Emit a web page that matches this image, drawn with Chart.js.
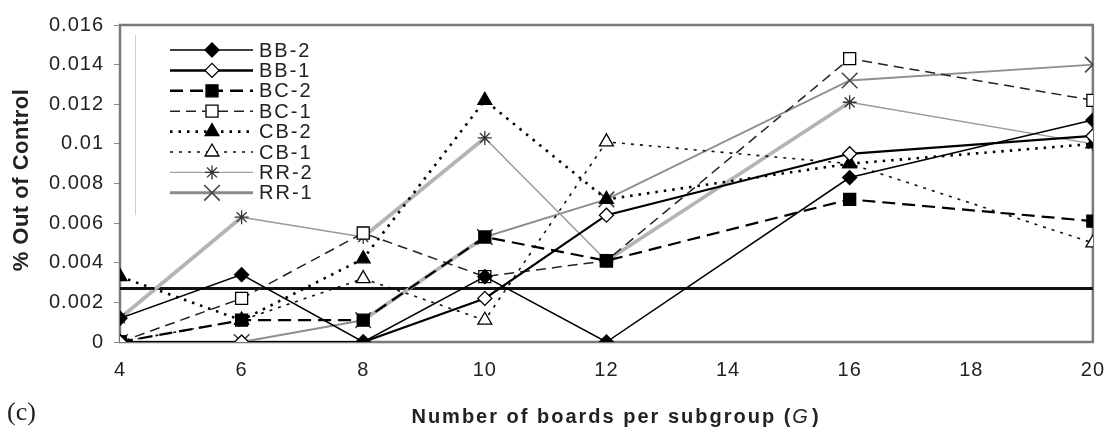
<!DOCTYPE html>
<html>
<head>
<meta charset="utf-8">
<script src="https://cdn.jsdelivr.net/npm/chart.js@4/dist/chart.umd.min.js"></script>
<style>
  html, body { margin: 0; padding: 0; background: #fff; }
  #wrap { width: 1120px; height: 431px; position: relative; }
</style>
</head>
<body>
<div id="wrap"><canvas id="c" width="1120" height="431"></canvas></div>
<script>
// Subgroup sizes (G) and the share of out-of-control signals per layout
const boardsPerSubgroup = [4, 6, 8, 10, 12, 16, 20];
const seriesNames = ['BB-2', 'BB-1', 'BC-2', 'BC-1', 'CB-2', 'CB-1', 'RR-2', 'RR-1'];
const bb2 = [0.0012, 0.0034, 0, 0.0033, 0, 0.0083, 0.0112];
const bb1 = [0, 0, 0, 0.0022, 0.0064, 0.0095, 0.0104];
const bc2 = [0, 0.0011, 0.0011, 0.0053, 0.0041, 0.0072, 0.0061];
const bc1 = [0, 0.0022, 0.0055, 0.0033, 0.0041, 0.0143, 0.0122];
const cb2 = [0.0033, 0.0011, 0.0042, 0.0122, 0.0072, 0.0090, 0.0100];
const cb1 = [0, 0.0011, 0.0032, 0.0011, 0.0101, 0.0090, 0.0050];
const rr2 = [0.0012, 0.0063, 0.0053, 0.0103, 0.0041, 0.0121, 0.0100];
const rr1 = [0, 0, 0.0011, 0.0053, 0.0072, 0.0132, 0.0140];
const controlLimit = 0.0027;
const yTickValues = [0, 0.002, 0.004, 0.006, 0.008, 0.01, 0.012, 0.014, 0.016];
const xTickValues = [4, 6, 8, 10, 12, 14, 16, 18, 20];
const xTitle = 'Number of boards per subgroup (';
const xTitleVar = 'G';
const yTitle = '% Out of Control';
const panelLabel = '(c)';

const toPoints = arr => boardsPerSubgroup.map((x, i) => ({ x, y: arr[i] }));

const SANS = '"Liberation Sans", Arial, sans-serif';

function series(label, values, style) {
  return Object.assign({
    label,
    data: toPoints(values),
    borderColor: '#000',
    borderWidth: 1.5,
    pointBackgroundColor: '#000',
    pointBorderColor: '#000',
    pointBorderWidth: 1.3,
    tension: 0,
    fill: false
  }, style);
}

const rr2Thick = [0, 2, 4];
const rr1Thick = [2];

const datasets = [
  series(seriesNames[0], bb2, { borderWidth: 1.5, pointStyle: 'rectRot', pointRadius: 7, legendWidth: 1.5 }),
  series(seriesNames[1], bb1, { borderWidth: 2.2, pointStyle: 'rectRot', pointRadius: 7,
    pointBackgroundColor: '#fff', legendWidth: 2.5 }),
  series(seriesNames[2], bc2, { borderWidth: 2.2, borderDash: [13, 7], pointStyle: 'rect', pointRadius: 8.5, legendWidth: 2.5 }),
  series(seriesNames[3], bc1, { borderWidth: 1.5, borderDash: [10, 6], borderColor: '#222', pointStyle: 'rect', pointRadius: 8.5,
    pointBackgroundColor: '#fff', legendWidth: 1.4 }),
  series(seriesNames[4], cb2, { borderWidth: 2.6, borderDash: [2.5, 6], pointStyle: 'triangle', pointRadius: 8, legendWidth: 2.8 }),
  series(seriesNames[5], cb1, { borderWidth: 1.6, borderDash: [3, 6], borderColor: '#111', pointStyle: 'triangle', pointRadius: 8,
    pointBackgroundColor: '#fff', legendWidth: 1.6 }),
  series(seriesNames[6], rr2, {
    borderColor: '#9c9c9c', borderWidth: 1.5, pointStyle: 'star', pointRadius: 7,
    pointBorderColor: '#333', pointBackgroundColor: '#333', legendWidth: 1.3, legendColor: '#a0a0a0',
    segment: {
      borderWidth: ctx => rr2Thick.includes(ctx.p0DataIndex) ? 3.8 : 1.5,
      borderColor: ctx => rr2Thick.includes(ctx.p0DataIndex) ? '#b4b4b4' : '#9a9a9a'
    }
  }),
  series(seriesNames[7], rr1, {
    borderColor: '#8e8e8e', borderWidth: 2, pointStyle: 'crossRot', pointRadius: 11,
    pointBorderColor: '#444', pointBorderWidth: 1.6, legendWidth: 3, legendColor: '#8a8a8a',
    segment: {
      borderWidth: ctx => rr1Thick.includes(ctx.p0DataIndex) ? 3.8 : 2,
      borderColor: ctx => rr1Thick.includes(ctx.p0DataIndex) ? '#b4b4b4' : '#8e8e8e'
    }
  }),
  {
    label: 'limit',
    data: [{ x: boardsPerSubgroup[0], y: controlLimit }, { x: boardsPerSubgroup[boardsPerSubgroup.length - 1], y: controlLimit }],
    borderColor: '#111', borderWidth: 3.2, pointRadius: 0, pointHoverRadius: 0, fill: false
  }
];

// Frame, legend, axis titles and panel label
const decorations = {
  id: 'decorations',
  beforeDatasetsDraw(chart) {
    const { ctx, chartArea: a } = chart;
    ctx.save();
    ctx.strokeStyle = '#7a7a7a';
    ctx.lineWidth = 2.5;
    ctx.strokeRect(a.left, a.top, a.right - a.left, a.bottom - a.top);
    // left edge of the legend box
    ctx.strokeStyle = '#cfcfcf';
    ctx.lineWidth = 1;
    ctx.beginPath();
    ctx.moveTo(a.left + 15.5, a.top + 10);
    ctx.lineTo(a.left + 15.5, a.top + 190);
    ctx.stroke();
    ctx.restore();
  },
  afterDraw(chart) {
    const { ctx, chartArea: a } = chart;
    ctx.save();
    // legend
    const x0 = a.left + 50, x1 = a.left + 133, xm = a.left + 92, xt = a.left + 139;
    seriesNames.forEach((name, i) => {
      const ds = chart.data.datasets[i];
      const y = a.top + 25 + i * 20.4;
      ctx.save();
      ctx.strokeStyle = ds.legendColor || ds.borderColor;
      ctx.lineWidth = ds.legendWidth;
      ctx.setLineDash(ds.borderDash || []);
      ctx.beginPath();
      ctx.moveTo(x0, y);
      ctx.lineTo(x1, y);
      ctx.stroke();
      ctx.setLineDash([]);
      ctx.fillStyle = ds.pointBackgroundColor;
      ctx.strokeStyle = ds.pointBorderColor;
      ctx.lineWidth = ds.pointBorderWidth;
      Chart.helpers.drawPoint(ctx, {
        pointStyle: ds.pointStyle, radius: ds.pointRadius, rotation: 0, borderWidth: ds.pointBorderWidth
      }, xm, y);
      ctx.fillStyle = '#222';
      ctx.font = '20px ' + SANS;
      ctx.letterSpacing = '2px';
      ctx.textAlign = 'left';
      ctx.textBaseline = 'middle';
      ctx.fillText(name, xt, y + 1);
      ctx.restore();
    });

    // x axis title with italic variable
    ctx.fillStyle = '#222';
    ctx.textBaseline = 'middle';
    ctx.textAlign = 'left';
    ctx.letterSpacing = '2px';
    const boldFont = 'bold 20px ' + SANS;
    const italFont = 'italic 20px ' + SANS;
    ctx.font = boldFont;
    const w1 = ctx.measureText(xTitle).width;
    const w3 = ctx.measureText(')').width;
    ctx.font = italFont;
    const w2 = ctx.measureText(xTitleVar).width;
    let tx = 615 - (w1 + w2 + w3) / 2;
    const ty = 417;
    ctx.font = boldFont;
    ctx.fillText(xTitle, tx, ty);
    ctx.font = italFont;
    ctx.fillText(xTitleVar, tx + w1, ty);
    ctx.font = boldFont;
    ctx.fillText(')', tx + w1 + w2 + 2, ty);

    // y axis title
    ctx.save();
    ctx.translate(22, 180);
    ctx.rotate(-Math.PI / 2);
    ctx.textAlign = 'center';
    ctx.letterSpacing = '0.5px';
    ctx.font = 'bold 22px ' + SANS;
    ctx.fillText(yTitle, 0, 0);
    ctx.restore();

    // panel label
    ctx.letterSpacing = '0px';
    ctx.font = '26px "Liberation Serif", "Times New Roman", serif';
    ctx.textAlign = 'left';
    ctx.fillText(panelLabel, 7, 413);
    ctx.restore();
  }
};

// wider tick lettering
const tickSpacing = {
  id: 'tickSpacing',
  beforeDraw(chart) { chart.ctx.letterSpacing = '1px'; }
};

new Chart(document.getElementById('c'), {
  type: 'line',
  data: { datasets },
  plugins: [tickSpacing, decorations],
  options: {
    responsive: false,
    animation: false,
    devicePixelRatio: 1,
    layout: { padding: { left: 0, right: 13, top: 25, bottom: 0 } },
    plugins: { legend: { display: false }, tooltip: { enabled: false } },
    elements: { line: { borderCapStyle: 'butt' } },
    scales: {
      x: {
        type: 'linear',
        min: xTickValues[0],
        max: xTickValues[xTickValues.length - 1],
        afterBuildTicks: s => { s.ticks = xTickValues.map(v => ({ value: v })); },
        afterFit: s => { s.height = 89; },
        grid: { display: false, drawTicks: false },
        border: { display: false },
        ticks: { padding: 16, color: '#222', font: { family: SANS, size: 20 } }
      },
      y: {
        type: 'linear',
        min: yTickValues[0],
        max: yTickValues[yTickValues.length - 1],
        afterBuildTicks: s => { s.ticks = yTickValues.map(v => ({ value: v })); },
        afterFit: s => { s.width = 120; },
        grid: { display: true, drawOnChartArea: false, drawTicks: true, tickLength: 6, color: '#8a8a8a' },
        border: { display: false },
        ticks: {
          padding: 10, color: '#222', font: { family: SANS, size: 20 },
          callback: v => String(+v.toFixed(3))
        }
      }
    }
  }
});
</script>
</body>
</html>
